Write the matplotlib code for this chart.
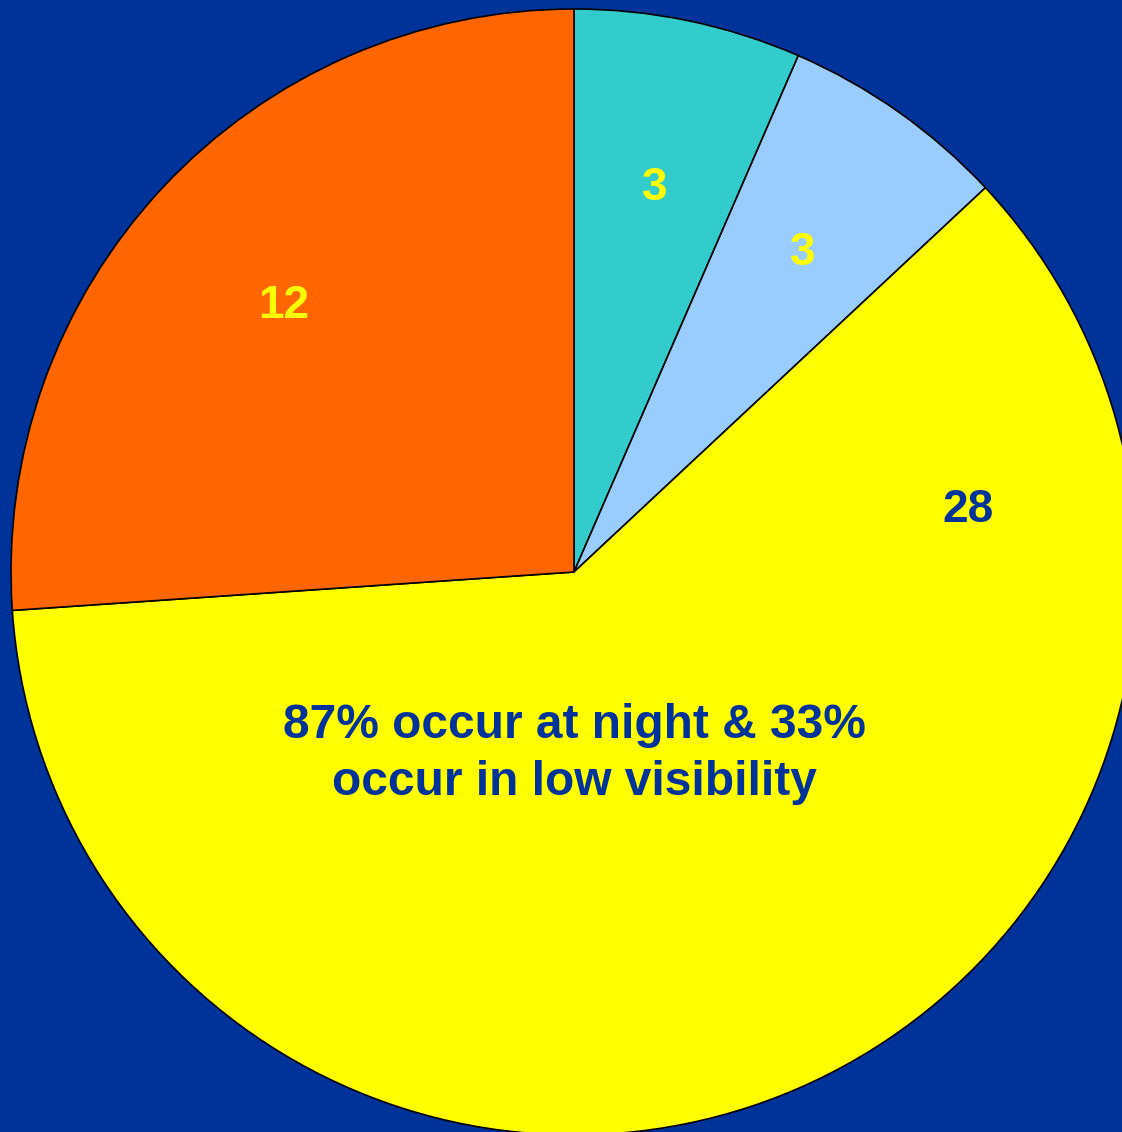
import matplotlib.pyplot as plt

# slices, clockwise from 12 o'clock
values = [3, 3, 28, 12]
colors = ['#33CCCC', '#99CCFF', '#FFFF00', '#FF6600']
label_colors = ['#FFFF00', '#FFFF00', '#003399', '#FFFF00']
note = '87% occur at night & 33%\noccur in low visibility'

W, H = 1122, 1132
fig = plt.figure(figsize=(W / 100, H / 100), dpi=100)
fig.patch.set_facecolor('#003399')
ax = fig.add_axes([0, 0, 1, 1])
ax.set_facecolor('#003399')

wedges, texts, autotexts = ax.pie(
    values, colors=colors, startangle=90, counterclock=False,
    center=(574, H - 572), radius=563,
    autopct=lambda p: '%d' % round(p * sum(values) / 100),
    pctdistance=0.705,
    wedgeprops=dict(edgecolor='black', linewidth=1.2),
    textprops=dict(fontfamily='Liberation Sans', fontweight='bold', fontsize=33))

for t, c in zip(autotexts, label_colors):
    t.set_color(c)
    t.set_va('center_baseline')

# the "28" label was moved to the right in the original
autotexts[2].set_position((968, H - 505))

ax.text(574, H - 754, note, ha='center', va='center', color='#003399',
        fontfamily='Liberation Sans', fontweight='bold', fontsize=34.5,
        linespacing=1.32)

ax.set_xlim(0, W)
ax.set_ylim(0, H)
ax.set_aspect('equal')
ax.axis('off')

fig.savefig('out.png', dpi=100, facecolor=fig.get_facecolor())
